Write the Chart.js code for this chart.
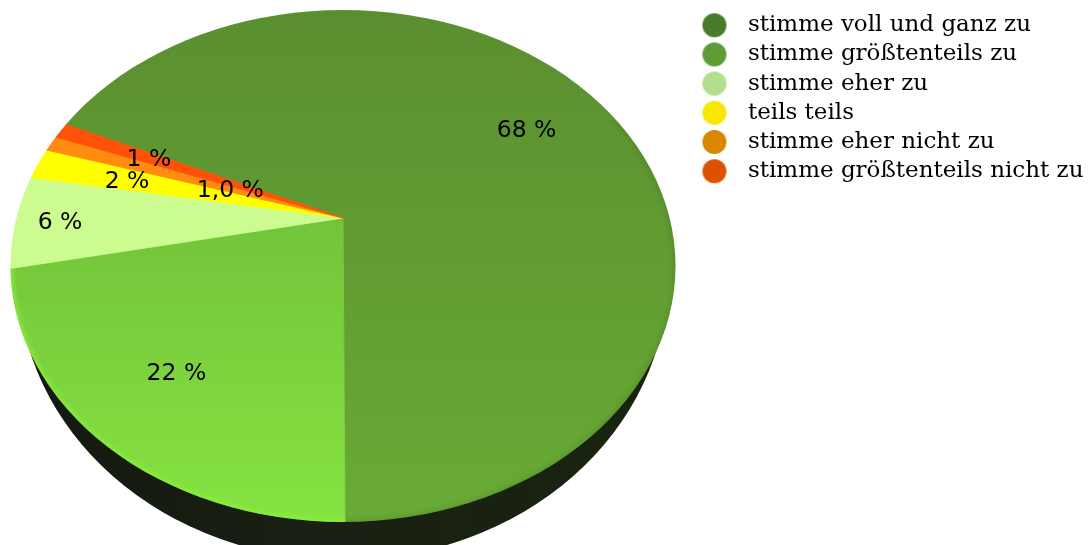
<!DOCTYPE html>
<html>
<head>
<meta charset="utf-8">
<style>
  html, body { margin: 0; padding: 0; background: #fff; }
  #pie { display: block; }
</style>
<script src="https://cdn.jsdelivr.net/npm/chart.js@4"></script>
</head>
<body>
<canvas id="pie" width="1090" height="545"></canvas>
<script>
// values
const categories = ['stimme voll und ganz zu', 'stimme größtenteils zu', 'stimme eher zu', 'teils teils', 'stimme eher nicht zu', 'stimme größtenteils nicht zu'];
const shares = [68.2, 21.9, 5.9, 2.0, 1.0, 1.0];
const sliceLabels = ['68 %', '22 %', '6 %', '2 %', '1,0 %', '1 %'];

// styling
const legendColors = ['#4a7a2c', '#5f9c36', '#b3dd8f', '#f8e800', '#d98600', '#dc5200'];
const sliceTopColors = ['#5a8f2f', '#66af35', '#ccfb90', '#ffff00', '#ff8c10', '#ff5208'];
const sliceBottomColors = ['#69ab36', '#86e341', '#ccfb90', '#ffff00', '#ff8c10', '#ff5208'];
const labelDistances = [219, 264, 283, 222, 119, 210];

// the flat pie is squeezed and its apex sits above the centre of the rim
const tilt = 0.75;
const apex = { x: 343, y: 218 };
const rim = { x: 343, y: 266, rx: 332.5, ry: 256 };
const wallEdge = { x: 343, y: 275, rx: 325, ry: 285 };

function rimPath(ctx) {
    ctx.beginPath();
    ctx.ellipse(rim.x, rim.y, rim.rx, rim.ry, 0, 0, Math.PI * 2);
}

function circleIcon(color) {
    const icon = document.createElement('canvas');
    icon.width = 26;
    icon.height = 26;
    const c = icon.getContext('2d');
    c.fillStyle = color;
    c.beginPath();
    c.arc(13, 13, 12, 0, Math.PI * 2);
    c.fill();
    return icon;
}

const tiltedPie = {
    id: 'tiltedPie',
    beforeDatasetsDraw(chart) {
        const ctx = chart.ctx;
        const arc = chart.getDatasetMeta(0).data[0];
        ctx.save();
        // side wall, only the part below the rim
        const wall = ctx.createLinearGradient(rim.x - rim.rx, 0, rim.x + rim.rx, 0);
        wall.addColorStop(0, '#12190d');
        wall.addColorStop(0.5, '#1a2013');
        wall.addColorStop(1, '#18240f');
        ctx.save();
        ctx.beginPath();
        ctx.rect(0, 300, 700, 245);
        ctx.clip();
        ctx.fillStyle = wall;
        ctx.beginPath();
        ctx.ellipse(wallEdge.x, wallEdge.y, wallEdge.rx, wallEdge.ry, 0, 0, Math.PI * 2);
        ctx.fill();
        ctx.restore();
        // top face
        rimPath(ctx);
        ctx.clip();
        ctx.translate(apex.x, apex.y);
        ctx.scale(1, tilt);
        ctx.translate(-arc.x, -arc.y);
    },
    afterDatasetsDraw(chart) {
        const ctx = chart.ctx;
        ctx.restore();

        // soft rim: bright under the 22 % slice, a little darker on the right
        ctx.save();
        rimPath(ctx);
        ctx.clip();
        ctx.filter = 'blur(2px)';
        ctx.lineWidth = 6;
        ctx.save();
        ctx.beginPath();
        ctx.rect(0, 268, apex.x + 2, 277);
        ctx.clip();
        ctx.strokeStyle = 'rgba(140,245,60,0.6)';
        rimPath(ctx);
        ctx.stroke();
        ctx.restore();
        ctx.beginPath();
        ctx.rect(apex.x + 2, 120, 345, 425);
        ctx.clip();
        ctx.strokeStyle = 'rgba(40,70,20,0.14)';
        rimPath(ctx);
        ctx.stroke();
        ctx.restore();

        // percent labels
        const arcs = chart.getDatasetMeta(0).data;
        ctx.save();
        ctx.font = '23.5px "DejaVu Sans"';
        ctx.fillStyle = '#000';
        ctx.textAlign = 'center';
        ctx.textBaseline = 'middle';
        arcs.forEach((arc, i) => {
            const mid = (arc.startAngle + arc.endAngle) / 2;
            const x = apex.x + Math.cos(mid) * labelDistances[i];
            const y = apex.y + Math.sin(mid) * labelDistances[i] * tilt;
            ctx.fillText(sliceLabels[i], x, y + 2);
        });
        ctx.restore();
    }
};

const chart = new Chart(document.getElementById('pie').getContext('2d'), {
    type: 'pie',
    data: {
        labels: categories,
        datasets: [{
            data: shares,
            backgroundColor: sliceTopColors,
            borderColor: sliceTopColors,
            borderWidth: 1
        }]
    },
    options: {
        responsive: false,
        animation: false,
        devicePixelRatio: 1,
        radius: 430,
        rotation: -65.8,
        layout: { padding: { top: 7.5, right: -3.5 } },
        plugins: {
            tooltip: { enabled: false },
            legend: {
                position: 'right',
                align: 'start',
                labels: {
                    color: '#111',
                    font: { family: '"DejaVu Serif"', size: 23, lineHeight: 1 },
                    padding: 6.2,
                    usePointStyle: true,
                    pointStyleWidth: 44,
                    generateLabels: () => categories.map((text, i) => ({
                        text,
                        index: i,
                        pointStyle: circleIcon(legendColors[i]),
                        fillStyle: legendColors[i],
                        strokeStyle: legendColors[i],
                        lineWidth: 0
                    }))
                }
            }
        }
    },
    plugins: [tiltedPie]
});

// slice shading runs top to bottom on the page, so work it out in the arc's own coordinates
const centre = chart.getDatasetMeta(0).data[0];
const sliceFills = categories.map((_, i) => {
    const top = centre.y + (rim.y - rim.ry - apex.y) / tilt;
    const bottom = centre.y + (rim.y + rim.ry - apex.y) / tilt;
    const g = chart.ctx.createLinearGradient(0, top, 0, bottom);
    g.addColorStop(0, sliceTopColors[i]);
    g.addColorStop(1, sliceBottomColors[i]);
    return g;
});
chart.data.datasets[0].backgroundColor = sliceFills;
chart.data.datasets[0].borderColor = sliceFills;
chart.update('none');
</script>
</body>
</html>
